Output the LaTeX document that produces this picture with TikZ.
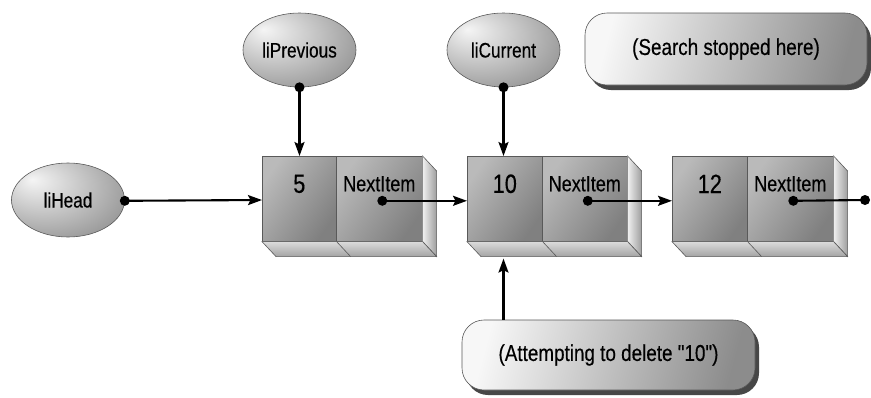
\documentclass[tikz,border=0pt]{standalone}
\usepackage{fontspec}
\newfontfamily\narrow[FakeStretch=0.82,FakeBold=0.35]{Liberation Sans}
\usetikzlibrary{shapes.geometric,shadows,arrows.meta,calc}
\pgfdeclareradialshading{ovalshade}{\pgfpoint{-16bp}{14bp}}{color(0bp)=(black!4); color(12bp)=(black!16); color(34bp)=(black!38); color(52bp)=(black!50); color(70bp)=(black!52)}
\begin{document}
\begin{tikzpicture}[x=1pt,y=-1pt,
  outl/.style={draw=black!65, line width=0.6pt},
  oval/.style={ellipse, outl, shading=ovalshade, minimum width=113pt, minimum height=74pt, inner sep=0pt, font=\narrow\fontsize{21}{24}\selectfont},
  note/.style={rounded corners=22pt, outl, left color=black!3, right color=black!45, shading angle=75, inner sep=0pt,
     general shadow={fill=black!72, shadow xshift=4pt, shadow yshift=-5pt}, font=\narrow\fontsize{23}{26}\selectfont},
  cell/.style={outl, anchor=north west, minimum height=85pt, inner sep=0pt, left color=black!27, right color=black!50, shading angle=55},
  sideface/.style={outl, left color=black!6, right color=black!38},
  botface/.style={outl, top color=black!14, bottom color=black!36},
  valtxt/.style={font=\narrow\fontsize{26.5}{30}\selectfont},
  nxttxt/.style={font=\narrow\fontsize{22}{25}\selectfont},
  arr/.style={-{Stealth[length=14pt,width=10pt,inset=2.5pt]}, line width=2.1pt},
  dot/.style={fill=black}
]
\useasboundingbox (0,0) rectangle (871,397);

% list boxes
\foreach \i/\L/\D/\R in {1/262/336/422, 2/467/542/627, 3/672/747/833}{
  \node[cell, minimum width={\D-\L}] (v\i) at (\L,156) {};
  \node[cell, minimum width={\R-\D}] (n\i) at (\D,156) {};
  \draw[sideface] (n\i.north east) -- ([shift={(14,15)}]n\i.north east) -- ([shift={(14,15)}]n\i.south east) -- (n\i.south east) -- cycle;
  \draw[botface] (v\i.south west) -- (n\i.south east) -- ([shift={(14,15)}]n\i.south east) -- ([shift={(14,15)}]v\i.south west) -- cycle;
  \draw[outl] (v\i.south east) -- ([shift={(14,15)}]v\i.south east);
  \node[nxttxt] (t\i) at ([yshift=15pt]n\i.center) {NextItem};
  \coordinate (d\i) at ([shift={(3,2)}]n\i.center);
  \coordinate (b\i) at ([yshift=-17pt]v\i.south);
}
\node[valtxt] (x1) at ([yshift=15pt]v1.center) {5};
\node[valtxt] (x2) at ([yshift=15pt]v2.center) {10};
\node[valtxt] (x3) at ([yshift=15pt]v3.center) {12};

% pointer ovals
\node[oval] (lh) at (68,200) {liHead};
\node[oval] (lp) at (299.5,50) {liPrevious};
\node[oval] (lc) at (503.5,50) {liCurrent};

% notes
\node[note, minimum width=282pt, minimum height=72pt] (ss) at (726,49) {(Search stopped here)};
\node[note, minimum width=293pt, minimum height=70pt] (at) at (608.5,355) {(Attempting to delete "10")};

% connectors
\coordinate (e3) at (865,200);
\draw[arr] (lh.east |- d1) -- (lh.east -| v1.west);
\draw[arr] (d1) -- (d1 -| v2.west);
\draw[arr] (d2) -- (d2 -| v3.west);
\draw[line width=2.1pt] (d3) -- (e3);
\draw[arr] (lp.south) -- (lp.south |- v1.north);
\draw[arr] (lc.south) -- (lc.south |- v2.north);
\draw[arr] (at.north -| lc.south) -- (lc.south |- b2);

\fill[dot] (lh.east |- d1) circle (5);
\fill[dot] (lp.south) circle (5);
\fill[dot] (lc.south) circle (5);
\fill[dot] (d1) circle (5);
\fill[dot] (d2) circle (5);
\fill[dot] (d3) circle (5);
\fill[dot] (e3) circle (5);
\end{tikzpicture}
\end{document}
